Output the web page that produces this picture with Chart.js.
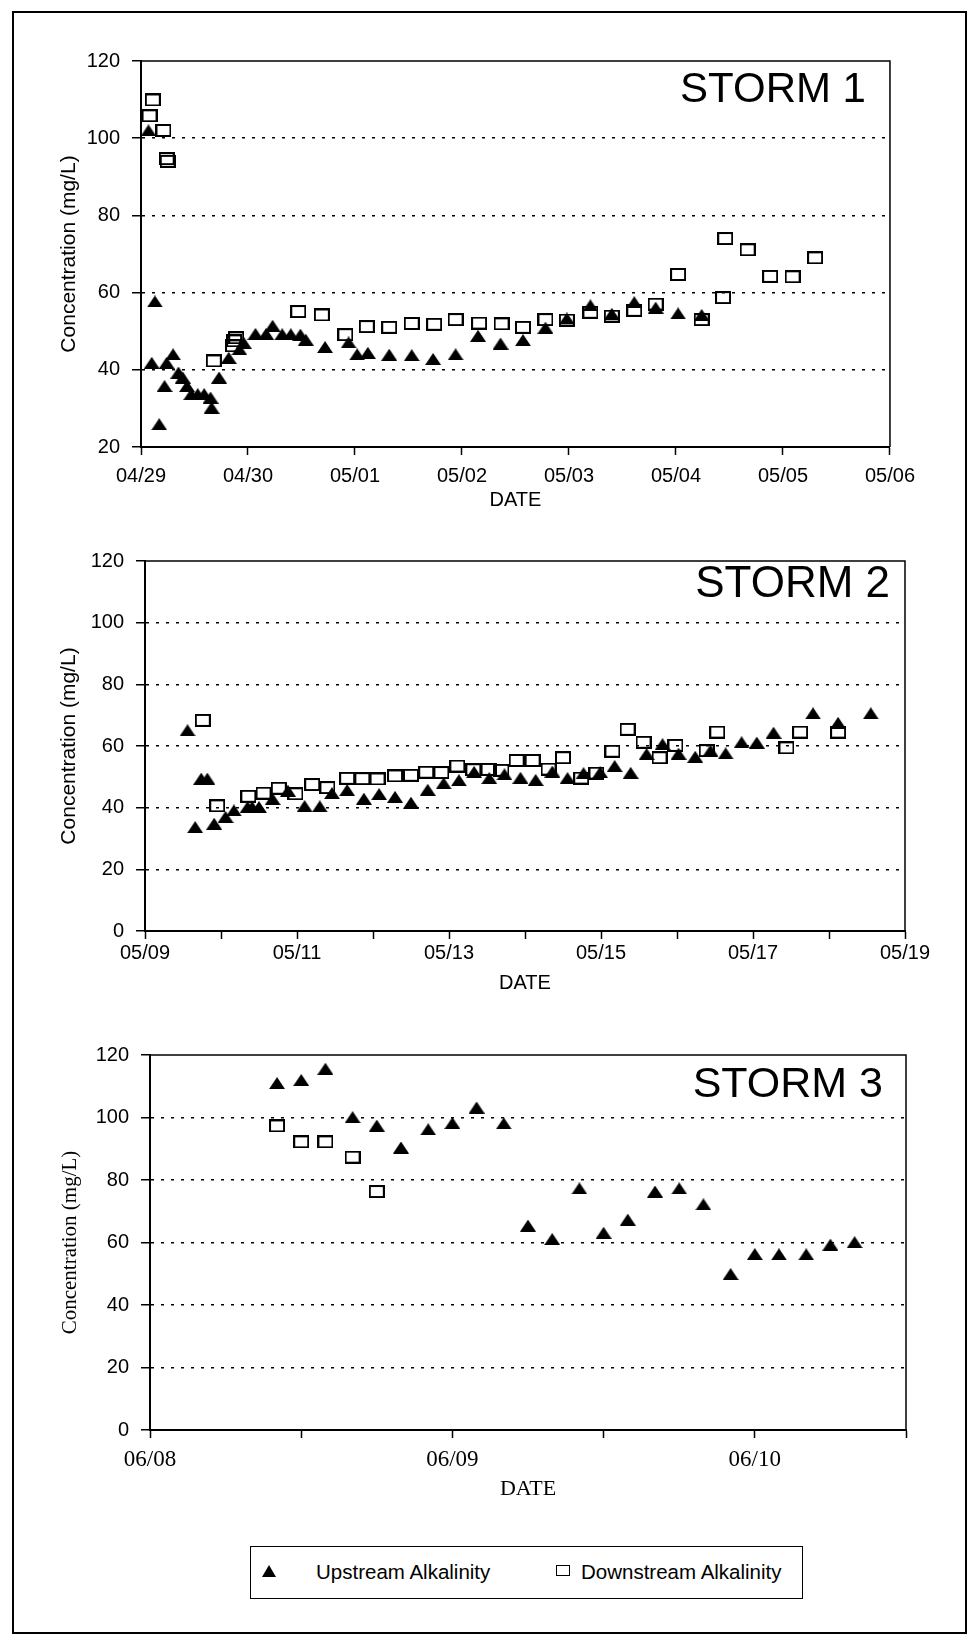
<!DOCTYPE html>
<html>
<head>
<meta charset="utf-8">
<script src="https://cdn.jsdelivr.net/npm/chart.js@4/dist/chart.umd.min.js"></script>
<style>
  body { margin: 0; background: #fff; width: 967px; height: 1636px; position: relative; overflow: hidden; }
  .frame { position: absolute; left: 12px; top: 11px; width: 955px; height: 1623px; border: 2px solid #000; box-sizing: border-box; }
  canvas { position: absolute; }
  .legend { position: absolute; left: 250px; top: 1546px; width: 553px; height: 53px; border: 1.5px solid #000; box-sizing: border-box;
            font-family: 'Liberation Sans', Arial, sans-serif; font-size: 20.5px; color: #000; }
  .legend span { position: absolute; top: 13px; line-height: 24px; white-space: nowrap; }
  .tri { position: absolute; left: 11px; top: 18px; width: 0; height: 0; border-left: 7px solid transparent; border-right: 7px solid transparent; border-bottom: 12px solid #000; }
  .sq { position: absolute; left: 305px; top: 18px; width: 14px; height: 11px; border: 1.5px solid #000; box-sizing: border-box; }
</style>
</head>
<body>
<div class="frame"></div>
<canvas id="storm1" width="884" height="490" style="left:40px; top:30px;"></canvas>
<canvas id="storm2" width="895" height="473" style="left:40px; top:530px;"></canvas>
<canvas id="storm3" width="896" height="486" style="left:40px; top:1024px;"></canvas>
<div class="legend">
  <div class="tri"></div><span style="left:65px;">Upstream Alkalinity</span>
  <div class="sq"></div><span style="left:330px;">Downstream Alkalinity</span>
</div>
<script>
// Storm 1 (x = days after 04/29 00:00)
const storm1Labels = ['04/29', '04/30', '05/01', '05/02', '05/03', '05/04', '05/05', '05/06'];
const storm1UpX = [0.07, 0.10, 0.13, 0.17, 0.22, 0.24, 0.30, 0.35, 0.39, 0.43, 0.47, 0.53, 0.59, 0.65, 0.66, 0.73, 0.82, 0.92, 0.96,
    1.07, 1.17, 1.23, 1.32, 1.40, 1.49, 1.54, 1.72, 1.94, 2.02, 2.12, 2.32, 2.53, 2.73, 2.94, 3.15, 3.36, 3.57, 3.78, 3.98,
    4.20, 4.40, 4.61, 4.81, 5.02, 5.24];
const storm1UpY = [102, 41.8, 57.7, 25.9, 35.8, 41.8, 44.0, 39.3, 38.0, 35.8, 33.7, 33.7, 33.7, 32.8, 30.2, 38.0, 43.1, 45.3, 47.0,
    49.3, 49.3, 51.4, 49.2, 49.2, 49.1, 47.8, 45.9, 47.1, 44.0, 44.4, 43.9, 43.8, 42.8, 44.0, 48.8, 46.8, 47.7, 50.9, 53.3,
    56.7, 54.5, 57.5, 56.1, 54.6, 54.2];
const storm1DownX = [0.08, 0.11, 0.21, 0.24, 0.25, 0.68, 0.86, 0.87, 0.89, 1.47, 1.69, 1.91, 2.11, 2.32, 2.53, 2.74, 2.94,
    3.16, 3.37, 3.57, 3.78, 3.98, 4.20, 4.40, 4.61, 4.81, 5.02, 5.24, 5.44, 5.46, 5.67, 5.88, 6.09, 6.30];
const storm1DownY = [105.8, 109.9, 102.0, 94.7, 94.0, 42.3, 46.2, 47.5, 48.3, 55.1, 54.2, 49.1, 51.2, 51.0, 52.0, 51.8, 53.0,
    52.1, 51.9, 51.0, 53.0, 52.9, 54.9, 53.9, 55.4, 57.0, 64.7, 53.0, 58.7, 74.0, 71.1, 64.2, 64.1, 69.0];

// Storm 2 (x = days after 05/09 00:00)
const storm2Labels = ['05/09', '', '05/11', '', '05/13', '', '05/15', '', '05/17', '', '05/19'];
const storm2UpX = [0.56, 0.66, 0.74, 0.82, 0.91, 1.06, 1.17, 1.35, 1.41, 1.50, 1.68, 1.88, 2.10, 2.30, 2.46, 2.66, 2.88,
    3.08, 3.29, 3.50, 3.72, 3.93, 4.13, 4.33, 4.53, 4.73, 4.94, 5.14, 5.36, 5.56, 5.77, 5.99, 6.18, 6.39, 6.60, 6.81,
    7.02, 7.24, 7.44, 7.64, 7.85, 8.05, 8.27, 8.79, 9.12, 9.55];
const storm2UpY = [65.1, 33.7, 49.4, 49.4, 34.8, 37.0, 39.1, 40.2, 40.2, 40.2, 42.8, 45.5, 40.5, 40.4, 44.7, 45.7, 42.9,
    44.4, 43.5, 41.6, 45.8, 47.9, 48.9, 51.6, 49.6, 50.8, 49.7, 49.0, 51.7, 49.6, 51.2, 51.5, 53.5, 51.3, 57.4, 60.6,
    57.5, 56.5, 58.5, 57.6, 61.2, 61.1, 64.3, 70.6, 67.5, 70.6];
const storm2DownX = [0.76, 0.95, 1.36, 1.56, 1.76, 1.98, 2.20, 2.40, 2.66, 2.86, 3.06, 3.29, 3.50, 3.70, 3.90, 4.11, 4.32,
    4.52, 4.69, 4.89, 5.10, 5.31, 5.50, 5.74, 5.94, 6.15, 6.35, 6.56, 6.77, 6.98, 7.39, 7.53, 8.44, 8.62, 9.12];
const storm2DownY = [68.3, 40.6, 43.7, 44.7, 46.3, 44.5, 47.5, 46.5, 49.5, 49.4, 49.3, 50.3, 50.5, 51.5, 51.4, 53.5, 52.3,
    52.4, 52.1, 55.3, 55.3, 52.5, 56.2, 49.6, 51.2, 58.3, 65.4, 61.2, 56.2, 60.2, 58.5, 64.5, 59.4, 64.5, 64.5];

// Storm 3 (x = days after 06/08 00:00, ticks every half day)
const storm3Labels = ['06/08', '', '06/09', '', '06/10', ''];
const storm3UpX = [0.42, 0.50, 0.58, 0.67, 0.75, 0.83, 0.92, 1.00, 1.08, 1.17, 1.25, 1.33, 1.42, 1.50, 1.58, 1.67,
    1.75, 1.83, 1.92, 2.00, 2.08, 2.17, 2.25, 2.33];
const storm3UpY = [111.0, 112.0, 115.6, 100.1, 97.4, 90.4, 96.2, 98.2, 103.2, 98.1, 65.4, 61.1, 77.3, 63.1, 67.3, 76.3,
    77.3, 72.2, 49.9, 56.3, 56.2, 56.2, 59.3, 60.1];
const storm3DownX = [0.42, 0.50, 0.58, 0.67, 0.75];
const storm3DownY = [97.3, 92.2, 92.2, 87.3, 76.3];

const seriesNames = ['Upstream Alkalinity', 'Downstream Alkalinity'];
const stormTitles = ['STORM 1', 'STORM 2', 'STORM 3'];

const SANS = "'Liberation Sans', Arial, sans-serif";
const SERIF = "'Liberation Serif', 'Times New Roman', serif";
Chart.defaults.color = '#000';
Chart.defaults.font.family = SANS;

// Marker images (filled triangle, hollow box)
function makeTriangle() {
    const c = document.createElement('canvas');
    c.width = 16; c.height = 12;
    const ctx = c.getContext('2d');
    ctx.fillStyle = '#000';
    ctx.beginPath();
    ctx.moveTo(8, 0); ctx.lineTo(16, 12); ctx.lineTo(0, 12);
    ctx.closePath();
    ctx.fill();
    return c;
}
function makeSquare() {
    const c = document.createElement('canvas');
    c.width = 16; c.height = 13;
    const ctx = c.getContext('2d');
    ctx.strokeStyle = '#000';
    ctx.lineWidth = 2;
    ctx.strokeRect(1, 1, 14, 11);
    return c;
}
const triImg = makeTriangle();
const sqImg = makeSquare();

// Top/right border of the plot box and the big storm label
const plotFrame = {
    id: 'plotFrame',
    afterDatasetsDraw(chart, args, opts) {
        const a = chart.chartArea;
        const ctx = chart.ctx;
        ctx.save();
        ctx.strokeStyle = '#000';
        ctx.lineWidth = 1.5;
        ctx.beginPath();
        ctx.moveTo(a.left, a.top);
        ctx.lineTo(a.right, a.top);
        ctx.lineTo(a.right, a.bottom);
        ctx.stroke();
        ctx.fillStyle = '#000';
        ctx.font = opts.size + 'px ' + SANS;
        ctx.textAlign = 'right';
        ctx.textBaseline = 'alphabetic';
        ctx.fillText(opts.text, a.right - opts.inset, a.top + opts.baseline);
        ctx.restore();
    }
};

function toPoints(xs, ys) {
    return xs.map((x, i) => ({ x: x, y: ys[i] }));
}

function makeChart(id, cfg) {
    const yMin = cfg.yMin, yMax = 120;
    return new Chart(document.getElementById(id), {
        type: 'scatter',
        data: {
            datasets: [{
                label: seriesNames[0],
                data: toPoints(cfg.upX, cfg.upY),
                pointStyle: triImg,
                pointRadius: 8,
                order: 2
            }, {
                label: seriesNames[1],
                data: toPoints(cfg.downX, cfg.downY),
                pointStyle: sqImg,
                pointRadius: 8,
                order: 1
            }]
        },
        options: {
            responsive: false,
            animation: false,
            devicePixelRatio: 1,
            layout: { padding: { top: 31, right: 30, left: 0, bottom: 0 } },
            plugins: {
                legend: { display: false },
                tooltip: { enabled: false },
                plotFrame: cfg.label
            },
            scales: {
                x: {
                    type: 'linear',
                    min: 0,
                    max: cfg.xMax,
                    afterFit: (s) => { s.height = cfg.xHeight; },
                    ticks: {
                        stepSize: cfg.xStep,
                        autoSkip: false,
                        maxRotation: 0,
                        padding: cfg.xPad,
                        font: { family: cfg.xFont, size: cfg.xSize },
                        callback: (v) => cfg.labels[Math.round(v / cfg.xStep)] || ''
                    },
                    grid: { drawOnChartArea: false, tickLength: 8, tickColor: '#000', tickWidth: 1.5 },
                    border: { color: '#000', width: 2 },
                    title: {
                        display: true,
                        text: 'DATE',
                        font: { family: cfg.xFont, size: cfg.titleSize },
                        padding: { top: 0, bottom: 8 }
                    }
                },
                y: {
                    min: yMin,
                    max: yMax,
                    afterFit: (s) => { s.width = cfg.yWidth; },
                    ticks: { stepSize: 20, padding: 12, font: { size: 20 } },
                    grid: {
                        color: (c) => (c.tick && (c.tick.value === yMin || c.tick.value === yMax)) ? 'rgba(0,0,0,0)' : '#000',
                        lineWidth: 1.5,
                        tickLength: 9,
                        tickColor: '#000',
                        tickWidth: 1.5
                    },
                    border: { color: '#000', width: 2, dash: [3, 7] },
                    title: {
                        display: true,
                        text: 'Concentration (mg/L)',
                        font: { family: cfg.yTitleFont, size: 21 },
                        padding: { top: cfg.yTitlePad, bottom: 0 }
                    }
                }
            }
        },
        plugins: [plotFrame]
    });
}

makeChart('storm1', {
    upX: storm1UpX, upY: storm1UpY, downX: storm1DownX, downY: storm1DownY,
    labels: storm1Labels, xMax: 7, xStep: 1, yMin: 20,
    xHeight: 73, yWidth: 101, xPad: 9, xFont: SANS, xSize: 20, titleSize: 20,
    yTitleFont: SANS, yTitlePad: 17,
    label: { text: stormTitles[0], size: 42, inset: 24, baseline: 41 }
});

makeChart('storm2', {
    upX: storm2UpX, upY: storm2UpY, downX: storm2DownX, downY: storm2DownY,
    labels: storm2Labels, xMax: 10, xStep: 1, yMin: 0,
    xHeight: 72, yWidth: 105, xPad: 2, xFont: SANS, xSize: 20, titleSize: 20,
    yTitleFont: SANS, yTitlePad: 17,
    label: { text: stormTitles[1], size: 44, inset: 15, baseline: 36 }
});

makeChart('storm3', {
    upX: storm3UpX, upY: storm3UpY, downX: storm3DownX, downY: storm3DownY,
    labels: storm3Labels, xMax: 2.5, xStep: 0.5, yMin: 0,
    xHeight: 80, yWidth: 110, xPad: 8, xFont: SERIF, xSize: 23, titleSize: 22,
    yTitleFont: SERIF, yTitlePad: 18,
    label: { text: stormTitles[2], size: 43, inset: 23, baseline: 42 }
});
</script>
</body>
</html>
